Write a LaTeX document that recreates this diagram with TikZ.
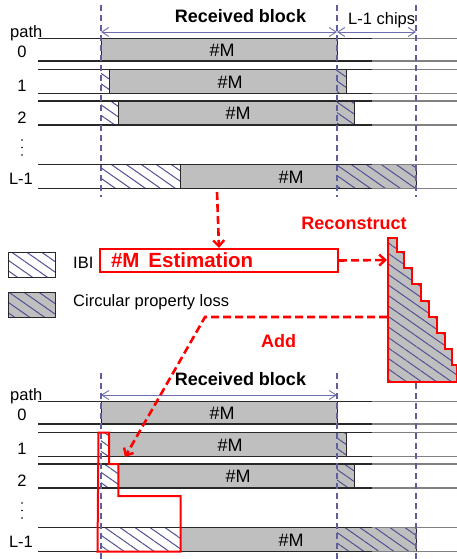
\documentclass[tikz,border=0pt]{standalone}
\usepackage{fontspec}
\setmainfont{Liberation Sans}
\usetikzlibrary{patterns.meta,arrows.meta}
\definecolor{hatchc}{RGB}{80,80,150}
\definecolor{dashc}{RGB}{95,95,160}
\definecolor{arrc}{RGB}{110,110,175}
\definecolor{boxgray}{RGB}{191,191,191}
\definecolor{lined}{RGB}{40,40,40}
\definecolor{lineg}{RGB}{128,128,128}
\begin{document}
\begin{tikzpicture}[x=1pt,y=-1pt,
  hatch/.style={pattern={Lines[angle=-35,distance=8.6pt,line width=1pt]},pattern color=hatchc},
  ibi/.style={preaction={fill=white},hatch},
  cpl/.style={preaction={fill=boxgray},hatch},
  blk/.style={fill=boxgray,draw=lined,line width=0.9pt},
  rowl/.style={draw=lined,line width=1.3pt},
  rowg/.style={draw=lineg,line width=1.3pt},
  vdash/.style={draw=dashc,line width=1.1pt,dash pattern=on 6pt off 4pt},
  dimarrow/.style={draw=arrc,line width=0.9pt,{Straight Barb[length=7pt,width=9pt]}-{Straight Barb[length=7pt,width=9pt]}},
  reddash/.style={draw=red,line width=2.6pt,dash pattern=on 8pt off 4pt,-{Straight Barb[length=6pt,width=11pt,line width=2.4pt]}},
  lbl/.style={inner sep=0pt,font=\fontsize{16.5}{18}\selectfont},
  bigb/.style={inner sep=0pt,font=\fontsize{18}{20}\selectfont\bfseries},
  mtxt/.style={inner sep=0pt,font=\fontsize{18}{20}\selectfont},
  redb/.style={inner sep=0pt,text=red,font=\fontsize{18}{20}\selectfont\bfseries},
  legbox/.style={draw=lined,line width=1.3pt,minimum width=47pt,minimum height=25pt,anchor=north west,inner sep=0pt},
]
\useasboundingbox (0,0) rectangle (457,559);

\foreach \s/\dy in {t/0,b/363}{
\begin{scope}[shift={(0,\dy)}]
  % row 0
  \draw[blk] (101,38.5) rectangle (337,61);
  % row 1
  \path[ibi] (101,69.5) rectangle (109,93.5);
  \draw[blk] (109,69.5) rectangle (346,93.5);
  \path[hatch] (337,69.5) rectangle (346,93.5);
  % row 2
  \path[ibi] (101,101) rectangle (118,125);
  \draw[blk] (118,101) rectangle (354,125);
  \path[hatch] (337,101) rectangle (354,125);
  % row L-1
  \path[ibi] (101,164.5) rectangle (180,188.5);
  \draw[blk] (180,164.5) rectangle (416,188.5);
  \path[hatch] (337,164.5) rectangle (416,188.5);
  % row lines
  \foreach \yy in {38.5,61,69.5,93.5,101,125,164.5,188.5}{
    \draw[rowl] (38,\yy) -- (372,\yy);
    \draw[rowg] (372,\yy) -- (457,\yy);
  }
  % texts
  \node[mtxt] (m0-\s) at (222,50) {\#M};
  \node[mtxt] (m1-\s) at (230,82) {\#M};
  \node[mtxt] (m2-\s) at (238,113.5) {\#M};
  \node[mtxt] (mL-\s) at (291,177) {\#M};
  \node[lbl,anchor=base west] (path-\s) at (10,37.5) {path};
  \node[lbl] (l0-\s) at (22,52) {0};
  \node[lbl] (l1-\s) at (22,86) {1};
  \node[lbl] (l2-\s) at (22,117.5) {2};
  \node[lbl] (lL-\s) at (21,179) {L-1};
  \fill[black] (22,140) circle (0.9pt) (22,147.5) circle (0.9pt) (22,155) circle (0.9pt);
  \node[bigb,anchor=base] (recv-\s) at (240.5,22.7) {Received block};
  \coordinate (da-\s) at (101,32);
  \coordinate (db-\s) at (337,32);
  \coordinate (dc-\s) at (416,32);
  \draw[dimarrow] (da-\s) -- (db-\s);
\end{scope}
}
\node[lbl,anchor=base west] (chips) at (348,25) {L-1 chips};
\draw[dimarrow] (db-t) -- (dc-t);

% vertical dashed lines
\foreach \xx in {101,337,416}{
  \draw[vdash] (\xx,5) -- (\xx,197);
  \draw[vdash] (\xx,373) -- (\xx,559);
}

% legend
\node[legbox,ibi] (leg1) at (8,252) {};
\node[lbl,anchor=base west] (leg1t) at (73,268) {IBI};
\node[legbox,cpl] (leg2) at (8,292) {};
\node[lbl,anchor=base west] (leg2t) at (73,306) {Circular property loss};

% estimation box
\node[draw=red,line width=2pt,anchor=north west,minimum height=23pt,text width=216pt,inner xsep=11pt,inner ysep=0pt,align=left,text=red,font=\fontsize{20.5}{22}\selectfont\bfseries] (est) at (99,248) {\#M\hspace{9pt}Estimation};
\coordinate (estsrc) at (217,192);
\draw[reddash] (estsrc) -- (est.north);

% reconstructed staircase
\draw[red,line width=2pt,cpl] (388,382) -- (388,238) -- (397,238) -- (397,252) -- (404,252) -- (404,268) -- (412,268) -- (412,284) -- (421,284) -- (421,301) -- (429,301) -- (429,317) -- (437,317) -- (437,333) -- (445,333) -- (445,349) -- (452,349) -- (452,365) -- (457,365) -- (457,382) -- cycle;
\coordinate (recW) at (387,260);
\coordinate (addW) at (387,317);
\node[redb,anchor=base] (recon) at (354,229) {Reconstruct};
\draw[reddash] (est.east) -- (recW);

% add connector
\coordinate (addc) at (205,317);
\coordinate (addtip) at (125,457);
\node[redb,anchor=base] (addt) at (278.5,347) {Add};
\draw[reddash] (addW) -- (addc) -- (addtip);

% red outline of bottom IBI region
\draw[red,line width=2pt] (98.5,432.5) -- (109,432.5) -- (109,464) -- (118.3,464) -- (118.3,496) -- (180.5,496) -- (180.5,551.7) -- (97.5,551.7) -- cycle;
\end{tikzpicture}
\end{document}
